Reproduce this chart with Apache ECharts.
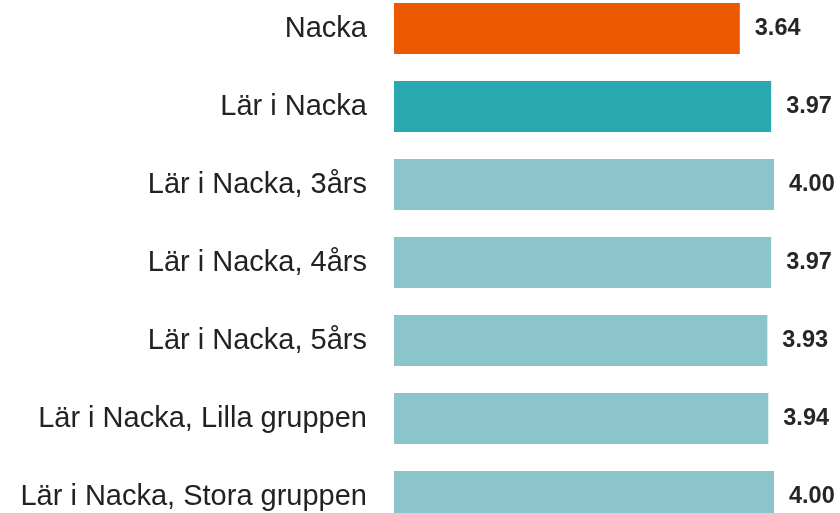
<!DOCTYPE html>
<html lang="sv">
<head>
    <meta charset="UTF-8">
    <title>Nacka</title>
    <style>
        html, body { margin: 0; padding: 0; background: #fff; }
        #container { width: 840px; height: 513px; }
    </style>
</head>
<body>
<div id="container"></div>
<script src="https://cdn.jsdelivr.net/npm/echarts@6/dist/echarts.min.js"></script>
<script>
    var categories = ['Nacka', 'Lär i Nacka', 'Lär i Nacka, 3års', 'Lär i Nacka, 4års',
        'Lär i Nacka, 5års', 'Lär i Nacka, Lilla gruppen', 'Lär i Nacka, Stora gruppen'];
    var values = [3.64, 3.97, 4.00, 3.97, 3.93, 3.94, 4.00];
    var barColors = ['#ea5800', '#2aa9b0', '#8cc4cc', '#8cc4cc', '#8cc4cc', '#8cc4cc', '#8cc4cc'];

    var myChart = echarts.init(document.getElementById('container'));

    var seriesData = [];
    for (var i = 0; i < values.length; i++) {
        seriesData.push({ value: values[i], itemStyle: { color: barColors[i] } });
    }

    var option = {
        animation: false,
        grid: {
            left: 394,
            top: -10.5,
            height: 546,
            width: 418,
            containLabel: false,
            outerBoundsMode: 'none'
        },
        xAxis: {
            type: 'value',
            min: 0,
            max: 4.4,
            show: false
        },
        yAxis: {
            type: 'category',
            data: categories,
            inverse: true,
            axisLine: { show: false },
            axisTick: { show: false },
            axisLabel: {
                margin: 27,
                fontSize: 29,
                fontFamily: 'Liberation Sans, Arial, sans-serif',
                color: '#222'
            }
        },
        series: [{
            type: 'bar',
            data: seriesData,
            barWidth: 51,
            label: {
                show: true,
                position: 'right',
                distance: 15,
                fontSize: 23.5,
                fontWeight: 'bold',
                fontFamily: 'Liberation Sans, Arial, sans-serif',
                color: '#262626',
                formatter: function (p) { return p.value.toFixed(2); }
            }
        }]
    };
    myChart.setOption(option, true);
</script>
</body>
</html>
